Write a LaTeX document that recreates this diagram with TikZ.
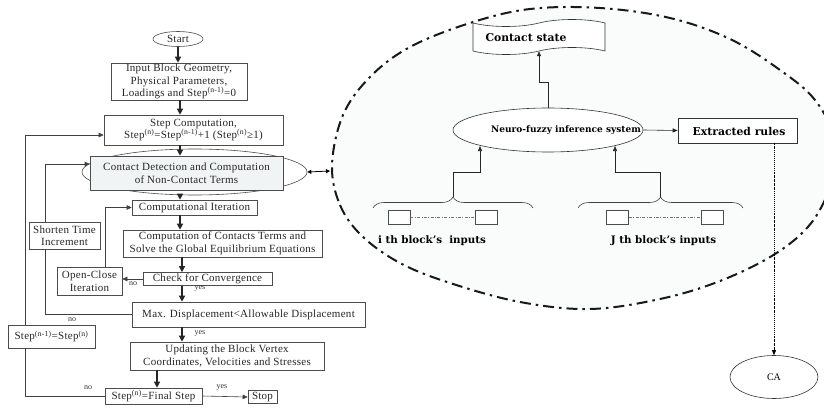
\documentclass[tikz,border=0pt]{standalone}
\usepackage{fontspec}
\setmainfont{Liberation Serif}
\newfontfamily\lfont{Liberation Serif}[LetterSpace=2.5]
\newfontfamily\rfont{DejaVu Serif}
\usetikzlibrary{arrows.meta,shapes.geometric,shapes.symbols,decorations.pathreplacing}

\begin{document}
\begin{tikzpicture}[x=1pt,y=-1pt,
  fbox/.style={draw=black!70,line width=0.6pt,fill=white,inner sep=0pt,align=center,
    font=\lfont\fontsize{11}{12.5}\selectfont,text=black!85},
  mainarr/.style={line width=1.3pt,draw=black!85,-{Triangle[length=6pt,width=6pt]}},
  looparr/.style={line width=0.6pt,draw=black!75,-{Triangle[length=5pt,width=4.5pt]}},
  loopline/.style={line width=0.6pt,draw=black!75},
  tag/.style={font=\fontsize{8}{8}\selectfont,inner sep=0pt,text=black!80},
  rbox/.style={draw=black!80,line width=0.6pt,inner sep=0pt,fill=white},
  rtext/.style={font=\rfont\bfseries\fontsize{10.3}{12}\selectfont,inner sep=0pt},
  rarr/.style={line width=0.6pt,draw=black!85,-{Triangle[length=5pt,width=4pt]}},
  ruleline/.style={line width=0.5pt,draw=black!55,dash pattern=on 3pt off 1.5pt on 0.8pt off 1.5pt},
  ringline/.style={line width=2pt,draw=black!90,dash pattern=on 11pt off 5pt on 2.5pt off 5pt},
  inbox/.style={draw=black!70,line width=0.5pt,fill=white,minimum width=22pt,minimum height=14pt,inner sep=0pt},
  bracestyle/.style={draw=black!75,line width=0.6pt,decorate,decoration={brace,amplitude=11pt,aspect=0.5}}
]
\useasboundingbox (0,0) rectangle (824,409);

% ---------- dash-dotted region of the neuro-fuzzy model ----------
\begin{scope}
  \clip (0,0) rectangle (824,409);
  \fill[fill={rgb,255:red,250;green,252;blue,252}]
    plot[smooth cycle,tension=0.6] coordinates {(332,165) (340,205) (362,236) (400,263) (450,283)
      (520,302) (590,309) (660,299) (720,281) (775,254) (812,222) (832,180) (835,140) (815,100)
      (780,70) (730,39) (670,18) (600,8) (530,9) (470,23) (410,47) (370,77) (343,115)};
  \draw[ringline]
    plot[smooth cycle,tension=0.6] coordinates {(332,165) (340,205) (362,236) (400,263) (450,283)
      (520,302) (590,309) (660,299) (720,281) (775,254) (812,222) (832,180) (835,140) (815,100)
      (780,70) (730,39) (670,18) (600,8) (530,9) (470,23) (410,47) (370,77) (343,115)};
\end{scope}
\coordinate (ringW) at (330,171);

% ---------- DDA flow chart ----------
\node[fbox,ellipse,minimum width=50pt,minimum height=15pt] (start) at (178,39) {Start};
\node[fbox,minimum width=136pt,minimum height=37pt] (input) at (179,81.5)
  {Input Block Geometry,\\Physical Parameters,\\Loadings and Step\textsuperscript{(n-1)}=0};
\node[fbox,minimum width=179pt,minimum height=30pt] (stepc) at (193.5,130)
  {Step Computation,\\Step\textsuperscript{(n)}=Step\textsuperscript{(n-1)}+1 (Step\textsuperscript{(n)}≥1)};
\node[fbox,ellipse,minimum width=225pt,minimum height=46pt] (cdell) at (194.5,172) {};
\node[fbox,fill={rgb,255:red,240;green,244;blue,244},minimum width=193pt,minimum height=34pt] (cdrect) at (186.5,173)
  {Contact Detection and Computation\\of Non-Contact Terms};
\node[fbox,minimum width=125pt,minimum height=15pt] (compit) at (194.5,207.5) {Computational Iteration};
\node[fbox,minimum width=199pt,minimum height=27pt] (compcont) at (222.5,243.5)
  {Computation of Contacts Terms and\\Solve the Global Equilibrium Equations};
\node[fbox,minimum width=129pt,minimum height=13pt] (check) at (207.5,279) {Check for Convergence};
\node[fbox,minimum width=65pt,minimum height=28pt] (openclose) at (89.5,281) {Open-Close\\Iteration};
\node[fbox,minimum width=71pt,minimum height=27pt] (shorten) at (64.5,235.5) {Shorten Time\\Increment};
\node[fbox,minimum width=233pt,minimum height=25pt] (maxd) at (248.5,314.5)
  {Max. Displacement<Allowable Displacement};
\node[fbox,minimum width=194pt,minimum height=28pt] (update) at (227,356)
  {Updating the Block Vertex\\Coordinates, Velocities and Stresses};
\node[fbox,minimum width=87pt,minimum height=23pt] (stepeq) at (51.5,336.5)
  {Step\textsuperscript{(n-1)}=Step\textsuperscript{(n)}};
\node[fbox,minimum width=97pt,minimum height=16pt] (final) at (153.5,396) {Step\textsuperscript{(n)}=Final Step};
\node[fbox,minimum width=29pt,minimum height=13pt] (stop) at (262.5,397) {Stop};

% columns of the vertical connectors
\coordinate (colA) at (180,0);
\coordinate (colB) at (182,0);
\coordinate (colC) at (157,0);
\coordinate (ocx) at (105,0);
\coordinate (stx) at (45,0);
\coordinate (lx) at (25,0);

\draw[mainarr] (start.south) -- (start.south |- input.north);
\draw[mainarr] (colA |- input.south) -- (colA |- stepc.north);
\draw[mainarr] (colA |- stepc.south) -- (colA |- cdrect.north);
\draw[mainarr] (colA |- cdell.south) -- (colA |- compit.north);
\draw[mainarr] (colA |- compit.south) -- (colA |- compcont.north);
\draw[mainarr] (colB |- compcont.south) -- (colB |- check.north);
\draw[mainarr] (colB |- check.south) -- (colB |- maxd.north);
\draw[mainarr] (colB |- maxd.south) -- (colB |- update.north);
\draw[mainarr] (colC |- update.south) -- (colC |- final.north);
\draw[looparr] (final.east) -- (stop.west);

\node[tag] (yes1) at (200,288) {yes};
\node[tag] (yes2) at (200,333) {yes};
\node[tag] (yes3) at (222,387) {yes};

% iteration loops
\draw[looparr] (check.west) -- (openclose.east |- check.west);
\node[tag] (no1) at (133,284) {no};
\draw[looparr] (ocx |- openclose.north) |- (compit.west);
\draw[loopline] (maxd.west) -| (stx |- shorten.south);
\draw[looparr] (stx |- shorten.north) |- ([yshift=9pt]cdrect.west);
\node[tag] (no2) at (72,320) {no};
\draw[loopline] (final.west) -| (lx |- stepeq.south);
\draw[looparr] (lx |- stepeq.north) |- ([yshift=-5pt]stepc.west);
\node[tag] (no3) at (88,388) {no};

% link between contact detection and the neuro-fuzzy model
\draw[line width=0.8pt,{Triangle[length=4pt,width=4pt]}-{Triangle[length=4pt,width=4pt]}] (cdell.east) -- (ringW);

% ---------- neuro-fuzzy contact model ----------
\node[rbox,tape,tape bend height=7pt,minimum width=132pt,minimum height=35pt] (cstate) at (539,37) {};
\node[rtext,font=\rfont\bfseries\fontsize{10.8}{12}\selectfont] (cstatetext) at (526,38) {Contact state};

\node[rbox,ellipse,minimum width=190pt,minimum height=44pt] (nfis) at (548,130) {};
\node[rtext,font=\rfont\bfseries\fontsize{9}{10}\selectfont] (nfistext) at (566,130) {Neuro-fuzzy inference system};

\node[rbox,minimum width=119pt,minimum height=25pt] (rules) at (737.5,130.5) {};
\node[rtext,font=\rfont\bfseries\fontsize{10.8}{12}\selectfont] (rulestext) at (739,131) {Extracted rules};

\node[draw=black!80,line width=0.6pt,ellipse,minimum width=88pt,minimum height=43pt,inner sep=0pt,fill=white,
  font=\fontsize{10}{11}\selectfont] (ca) at (774,377) {CA};

\draw[rarr] (nfis.north) -- ++(0,-25) -| (cstate.south);
\draw[rarr] (nfis.east) -- (rules.west);
\draw[line width=0.6pt,dash pattern=on 1.5pt off 1pt on 0.6pt off 1pt,-{Triangle[length=5pt,width=4pt]}]
  (rules.south -| ca.north) -- (ca.north);

% block inputs
\node[inbox] (i1) at (399,217) {};
\node[inbox] (i2) at (486.5,217) {};
\node[inbox] (j1) at (617.5,217) {};
\node[inbox] (j2) at (712.5,217) {};
\draw[ruleline] (i1.east) -- (i2.west);
\draw[ruleline] (j1.east) -- (j2.west);

\coordinate (bL1) at (373,208);
\coordinate (bL2) at (533,208);
\coordinate (bR1) at (578,208);
\coordinate (bR2) at (743,208);
\draw[bracestyle] (bL1) -- (bL2);
\draw[bracestyle] (bR1) -- (bR2);
\coordinate (tipL) at (453,197);
\coordinate (tipR) at (660.5,197);
\coordinate (nfL) at (480,146);
\coordinate (nfR) at (615,146);
\draw[rarr] (tipL) -- ++(0,-25) -| (nfL);
\draw[rarr] (tipR) -- ++(0,-25) -| (nfR);

\node[rtext] (ilabel) at (432,241) {i th block’s\ \ inputs};
\node[rtext] (jlabel) at (663.5,241) {J th block’s inputs};
\end{tikzpicture}
\end{document}
